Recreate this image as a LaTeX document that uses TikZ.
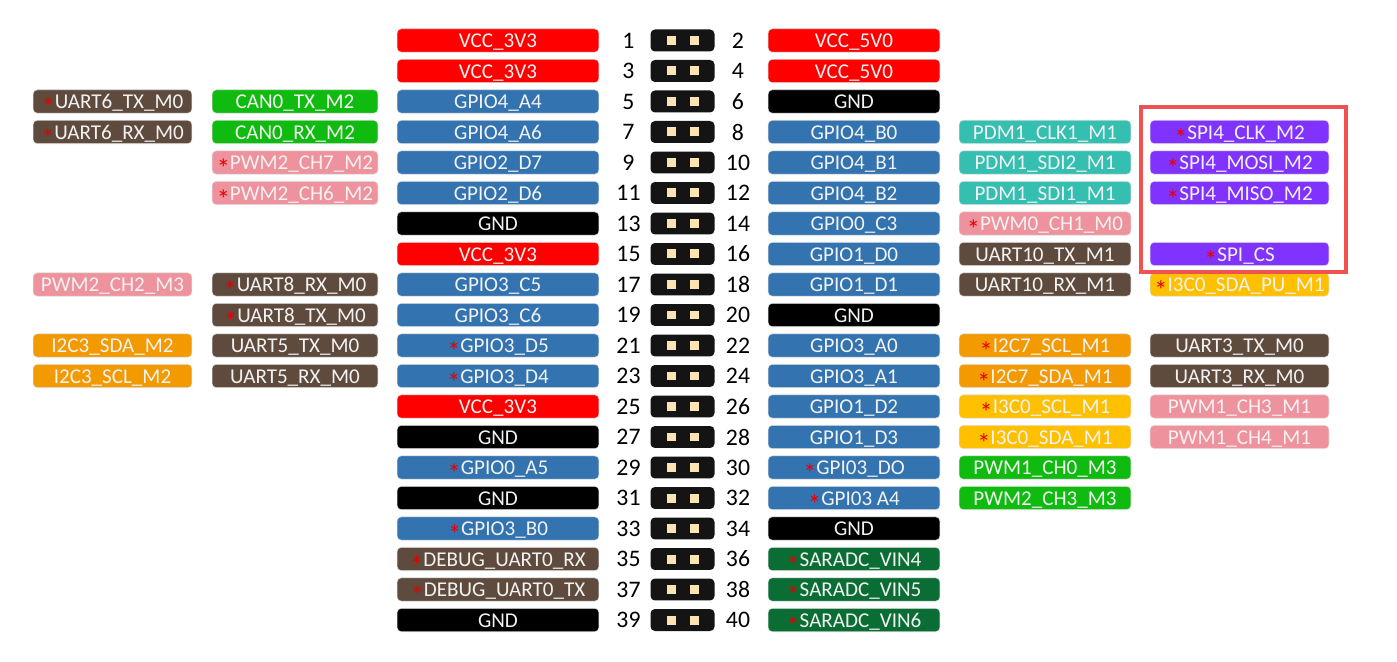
\documentclass[tikz,border=0pt]{standalone}
\usepackage{fontspec}
\usepackage{graphicx}
\setmainfont{Carlito}
\usetikzlibrary{positioning}
\definecolor{vcc}{RGB}{255,0,0}
\definecolor{gpio}{RGB}{50,115,176}
\definecolor{gnd}{RGB}{0,0,0}
\definecolor{uart}{RGB}{94,75,62}
\definecolor{can}{RGB}{16,187,16}
\definecolor{pwm}{RGB}{238,147,157}
\definecolor{pdm}{RGB}{52,191,177}
\definecolor{spi}{RGB}{128,51,255}
\definecolor{iic}{RGB}{243,154,0}
\definecolor{iiic}{RGB}{255,192,0}
\definecolor{adc}{RGB}{10,110,52}
\definecolor{star}{RGB}{230,0,0}
\definecolor{hl}{RGB}{240,82,82}
\definecolor{padc}{RGB}{252,228,178}
\newcommand{\redstar}{\textcolor{star}{\raisebox{-0.38em}{\scalebox{1.25}{*}}}}

\begin{document}
\begin{tikzpicture}[x=0.02cm,y=-0.02cm,
  sigbox/.style={draw=black!12,line width=0.3pt,rounded corners=2.5pt,
    minimum height=0.47cm,inner sep=0pt,text=white!95!black,
    text height=0.8em,text depth=0em,
    font=\fontsize{12}{14}\selectfont},
  hdr/.style={fill=black!92,rounded corners=2.5pt,minimum width=1.28cm,
    minimum height=0.44cm,inner sep=0pt},
  pad/.style={fill=padc,minimum size=0.18cm,inner sep=0pt},
  pinnum/.style={font=\fontsize{13.5}{15}\selectfont,inner sep=0pt}]
  \useasboundingbox (0,0) rectangle (1397,662);

  % header and pin numbers
  \foreach \r in {1,...,20}{
    \pgfmathsetmacro{\yy}{40.5+(\r-1)*30.5}
    \pgfmathtruncatemacro{\odd}{2*\r-1}
    \pgfmathtruncatemacro{\even}{2*\r}
    \node[hdr] (h-\r) at (682.5,\yy) {};
    \node[pad] (h-\r-a) at ([xshift=-0.23cm]h-\r.center) {};
    \node[pad] (h-\r-b) at ([xshift=0.23cm]h-\r.center) {};
    \node[pinnum] (n-\odd) at (628.5,\yy) {\odd};
    \node[pinnum] (n-\even) at (738,\yy) {\even};
  }

  % column A
  \foreach \r/\txt/\col in {
    3/{\redstar UART6\_TX\_M0}/uart,
    4/{\redstar UART6\_RX\_M0}/uart,
    9/{PWM2\_CH2\_M3}/pwm,
    11/{I2C3\_SDA\_M2}/iic,
    12/{I2C3\_SCL\_M2}/iic}{
    \node[sigbox,fill=\col,minimum width=3.18cm] (A-\r)
      at (112.5,{40.5+(\r-1)*30.5}) {\txt};
  }

  % column B
  \foreach \r/\txt/\col in {
    3/{CAN0\_TX\_M2}/can,
    4/{CAN0\_RX\_M2}/can,
    5/{\redstar PWM2\_CH7\_M2}/pwm,
    6/{\redstar PWM2\_CH6\_M2}/pwm,
    9/{\redstar UART8\_RX\_M0}/uart,
    10/{\redstar UART8\_TX\_M0}/uart,
    11/{UART5\_TX\_M0}/uart,
    12/{UART5\_RX\_M0}/uart}{
    \node[sigbox,fill=\col,minimum width=3.32cm] (B-\r)
      at (295,{40.5+(\r-1)*30.5}) {\txt};
  }

  % column C (odd pins)
  \foreach \r/\txt/\col in {
    1/{VCC\_3V3}/vcc,
    2/{VCC\_3V3}/vcc,
    3/{GPIO4\_A4}/gpio,
    4/{GPIO4\_A6}/gpio,
    5/{GPIO2\_D7}/gpio,
    6/{GPIO2\_D6}/gpio,
    7/{GND}/gnd,
    8/{VCC\_3V3}/vcc,
    9/{GPIO3\_C5}/gpio,
    10/{GPIO3\_C6}/gpio,
    11/{\redstar GPIO3\_D5}/gpio,
    12/{\redstar GPIO3\_D4}/gpio,
    13/{VCC\_3V3}/vcc,
    14/{GND}/gnd,
    15/{\redstar GPIO0\_A5}/gpio,
    16/{GND}/gnd,
    17/{\redstar GPIO3\_B0}/gpio,
    18/{\redstar DEBUG\_UART0\_RX}/uart,
    19/{\redstar DEBUG\_UART0\_TX}/uart,
    20/{GND}/gnd}{
    \node[sigbox,fill=\col,minimum width=4.04cm] (C-\r)
      at (498,{40.5+(\r-1)*30.5}) {\txt};
  }

  % column D (even pins)
  \foreach \r/\txt/\col in {
    1/{VCC\_5V0}/vcc,
    2/{VCC\_5V0}/vcc,
    3/{GND}/gnd,
    4/{GPIO4\_B0}/gpio,
    5/{GPIO4\_B1}/gpio,
    6/{GPIO4\_B2}/gpio,
    7/{GPIO0\_C3}/gpio,
    8/{GPIO1\_D0}/gpio,
    9/{GPIO1\_D1}/gpio,
    10/{GND}/gnd,
    11/{GPIO3\_A0}/gpio,
    12/{GPIO3\_A1}/gpio,
    13/{GPIO1\_D2}/gpio,
    14/{GPIO1\_D3}/gpio,
    15/{\redstar GPI03\_DO}/gpio,
    16/{\redstar GPI03 A4}/gpio,
    17/{GND}/gnd,
    18/{\redstar SARADC\_VIN4}/adc,
    19/{\redstar SARADC\_VIN5}/adc,
    20/{\redstar SARADC\_VIN6}/adc}{
    \node[sigbox,fill=\col,minimum width=3.44cm] (D-\r)
      at (854,{40.5+(\r-1)*30.5}) {\txt};
  }

  % column E
  \foreach \r/\txt/\col in {
    4/{PDM1\_CLK1\_M1}/pdm,
    5/{PDM1\_SDI2\_M1}/pdm,
    6/{PDM1\_SDI1\_M1}/pdm,
    7/{\redstar PWM0\_CH1\_M0}/pwm,
    8/{UART10\_TX\_M1}/uart,
    9/{UART10\_RX\_M1}/uart,
    11/{\redstar I2C7\_SCL\_M1}/iic,
    12/{\redstar I2C7\_SDA\_M1}/iic,
    13/{\redstar I3C0\_SCL\_M1}/iiic,
    14/{\redstar I3C0\_SDA\_M1}/iiic,
    15/{PWM1\_CH0\_M3}/can,
    16/{PWM2\_CH3\_M3}/can}{
    \node[sigbox,fill=\col,minimum width=3.44cm] (E-\r)
      at (1045,{40.5+(\r-1)*30.5}) {\txt};
  }

  % column F
  \foreach \r/\txt/\col in {
    4/{\redstar SPI4\_CLK\_M2}/spi,
    5/{\redstar SPI4\_MOSI\_M2}/spi,
    6/{\redstar SPI4\_MISO\_M2}/spi,
    8/{\redstar SPI\_CS}/spi,
    9/{\redstar I3C0\_SDA\_PU\_M1}/iiic,
    11/{UART3\_TX\_M0}/uart,
    12/{UART3\_RX\_M0}/uart,
    13/{PWM1\_CH3\_M1}/pwm,
    14/{PWM1\_CH4\_M1}/pwm}{
    \node[sigbox,fill=\col,minimum width=3.58cm] (F-\r)
      at (1239.5,{40.5+(\r-1)*30.5}) {\txt};
  }

  % SPI highlight
  \draw[hl,line width=0.08cm] (1141,107.5) rectangle (1346,272);
\end{tikzpicture}
\end{document}
